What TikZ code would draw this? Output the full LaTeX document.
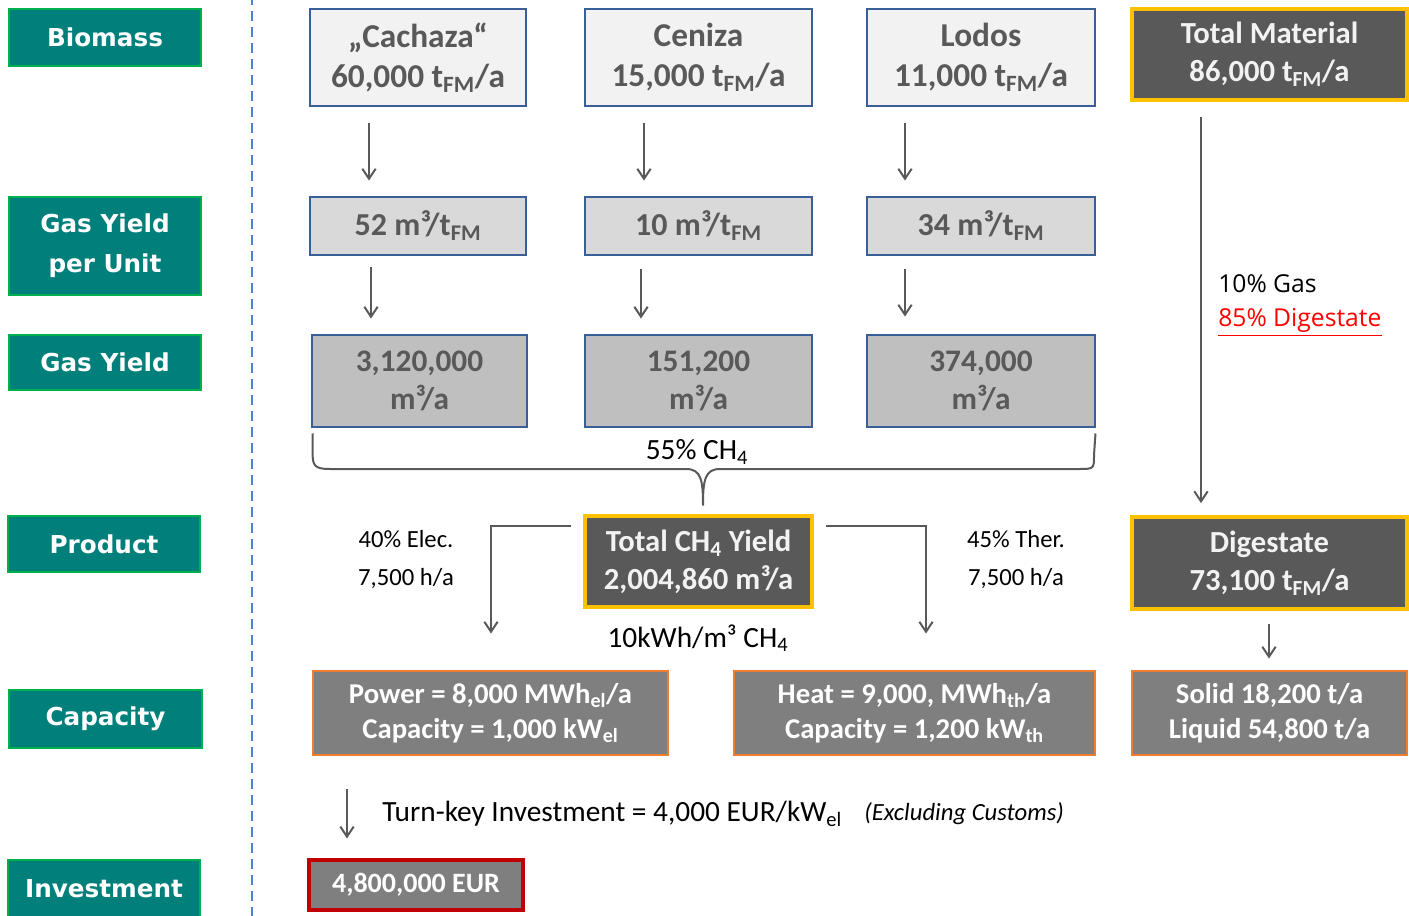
\documentclass[tikz,border=0pt]{standalone}
\usepackage{fontspec}
\setmainfont{Carlito}
\newfontfamily\lblfont{DejaVu Sans}
\newfontfamily\notefont{Open Sans}
\usetikzlibrary{arrows.meta,calc}

\definecolor{tealfill}{HTML}{007F7B}
\definecolor{tealedge}{HTML}{00B050}
\definecolor{boxblue}{HTML}{3A5F96}
\definecolor{txtgray}{HTML}{595959}
\definecolor{fillA}{HTML}{F2F2F2}
\definecolor{fillB}{HTML}{D9D9D9}
\definecolor{fillC}{HTML}{BFBFBF}
\definecolor{darkfill}{HTML}{595959}
\definecolor{goldedge}{HTML}{FFC000}
\definecolor{midfill}{HTML}{7F7F7F}
\definecolor{orangeedge}{HTML}{ED7D31}
\definecolor{redEdge}{HTML}{C00000}
\definecolor{dashblue}{HTML}{4F81C8}
\definecolor{notered}{HTML}{FF0000}

\newcommand\setfs[2]{\fontsize{#1}{#2}\selectfont}

\begin{document}
\begin{tikzpicture}[x=0.75pt,y=-0.75pt,
  every node/.style={inner sep=0pt, align=center},
  sz/.style 2 args={minimum width=#1*0.75pt, minimum height=#2*0.75pt},
  lbl/.style={draw=tealedge, line width=2.2pt, fill=tealfill, text=white,
    font=\lblfont\bfseries\setfs{18.5pt}{30pt}},
  srcbox/.style={draw=boxblue, line width=2.2pt, fill=fillA, text=txtgray,
    font=\bfseries\setfs{25pt}{30pt}},
  unitbox/.style={srcbox, fill=fillB, font=\bfseries\setfs{24pt}{29pt}},
  yieldbox/.style={srcbox, fill=fillC, font=\bfseries\setfs{23.5pt}{28pt}},
  darkbox/.style={draw=goldedge, line width=2.8pt, fill=darkfill, text=fillA,
    font=\bfseries\setfs{23pt}{28.5pt}},
  capbox/.style={draw=orangeedge, line width=2.2pt, fill=midfill, text=white,
    font=\bfseries\setfs{21.5pt}{26pt}},
  invbox/.style={draw=redEdge, line width=2.4pt, fill=midfill, text=white,
    font=\bfseries\setfs{21pt}{25pt}},
  note/.style={text=black, font=\setfs{18.5pt}{28.5pt}},
  arr/.style={draw=txtgray, line width=1.5pt,
    -{Straight Barb[length=7.5pt,width=10pt,line width=1.5pt]}},
  divider/.style={draw=dashblue, line width=2pt, dash pattern=on 7.5pt off 4.5pt}
]
\useasboundingbox (0,0) rectangle (1409,916);

% row headings
\node[lbl, sz={192}{57}] (lbio) at (105,37.5) {Biomass};
\node[lbl, sz={192}{98}] (lgpu) at (105,246) {Gas Yield\\per Unit};
\node[lbl, sz={192}{55}] (lgy) at (105,362.5) {Gas Yield};
\node[lbl, sz={192}{56}] (lprod) at (104,544) {Product};
\node[lbl, sz={193}{58}] (lcap) at (105.5,719) {Capacity};
\node[lbl, sz={192}{58}] (linv) at (104,889) {Investment};

% separator
\draw[divider] (252,-5) -- (252,921);

% feedstock
\node[srcbox, sz={216}{97}] (cach) at (418,57.5) {„Cachaza“\\60,000 t\textsubscript{FM}/a};
\node[srcbox, sz={227}{97}] (cen) at (698.5,57.5) {Ceniza\\15,000 t\textsubscript{FM}/a};
\node[srcbox, sz={228}{97}] (lod) at (981,57.5) {Lodos\\11,000 t\textsubscript{FM}/a};
\node[darkbox, sz={275}{91}] (totm) at (1269.5,54.5) {Total Material\\86,000 t\textsubscript{FM}/a};

% specific yield
\node[unitbox, sz={216}{58}] (u1) at (418,226) {52 m³/t\textsubscript{FM}};
\node[unitbox, sz={227}{58}] (u2) at (698.5,226) {10 m³/t\textsubscript{FM}};
\node[unitbox, sz={228}{58}] (u3) at (981,226) {34 m³/t\textsubscript{FM}};

% gas yield
\node[yieldbox, sz={215}{92}] (g1) at (419.5,381) {3,120,000\\m³/a};
\node[yieldbox, sz={227}{92}] (g2) at (698.5,381) {151,200\\m³/a};
\node[yieldbox, sz={228}{92}] (g3) at (981,381) {374,000\\m³/a};

% arrows between rows
\draw[arr] ($(cach.south)+(-49,16)$) -- ($(u1.north)+(-49,-15)$);
\draw[arr] ($(cen.south)+(-54.5,16)$) -- ($(u2.north)+(-54.5,-15)$);
\draw[arr] ($(lod.south)+(-76,16)$) -- ($(u3.north)+(-76,-15)$);
\draw[arr] ($(u1.south)+(-47,11)$) -- ($(g1.north)+(-48.5,-15)$);
\draw[arr] ($(u2.south)+(-57.5,13)$) -- ($(g2.north)+(-57.5,-15)$);
\draw[arr] ($(u3.south)+(-76,13)$) -- ($(g3.north)+(-76,-17)$);

% brace collecting the gas yields
\coordinate (bl) at ($(g1.south west)+(2,5)$);
\coordinate (br) at ($(g3.south east)+(-1,5)$);
\coordinate (btip) at (703,505);
\draw[draw=txtgray, line width=1.5pt, line join=round]
  (bl) -- ++(0,18) .. controls +(0,14) and (314,469) .. (330,469)
  -- (686,469) .. controls (701,469) and (703,480) .. (btip)
  .. controls (703,480) and (705,469) .. (720,469)
  -- (1078,469) .. controls (1094,469) and (1094,469) .. (1094,455) -- (br);
\node[font=\setfs{22pt}{26pt}] (ch4) at (697,452) {55\% CH\textsubscript{4}};

% product
\node[darkbox, sz={227}{91}] (tot) at (698.5,561.5) {Total CH\textsubscript{4} Yield\\2,004,860 m³/a};
\node[darkbox, sz={275}{92}] (dig) at (1269.5,563) {Digestate\\73,100 t\textsubscript{FM}/a};

\node[note] (elec) at (406,560) {40\% Elec.\\7,500 h/a};
\node[note] (ther) at (1016,560) {45\% Ther.\\7,500 h/a};
\node[font=\setfs{22pt}{26pt}] (kwh) at (698,638) {10kWh/m³ CH\textsubscript{4}};

% capacity
\node[capbox, sz={355}{84}] (pow) at (490.5,713) {Power = 8,000 MWh\textsubscript{el}/a\\Capacity = 1,000 kW\textsubscript{el}};
\node[capbox, sz={361}{84}] (heat) at (914.5,713) {Heat = 9,000, MWh\textsubscript{th}/a\\Capacity = 1,200 kW\textsubscript{th}};
\node[capbox, sz={275}{84}] (sol) at (1269.5,713) {Solid 18,200 t/a\\Liquid 54,800 t/a};

\draw[arr] ($(tot.north west)+(-12,12)$) -| ($(pow.north)+(0.5,-36)$);
\draw[arr] ($(tot.north east)+(12,12)$) -| ($(heat.north)+(11.5,-36)$);

% digestate branch
\draw[arr] ($(totm.south)+(-68.5,15)$) -- ($(dig.north)+(-68.5,-12)$);
\node[anchor=west, align=left, font=\notefont\setfs{18.5pt}{26pt}] (split) at (1218,305)
  {10\% Gas\\\textcolor{notered}{\underline{85\% Digestate}}};
\draw[arr] ($(dig.south)+(-0.5,13)$) -- ($(sol.north)+(-0.5,-11)$);

% investment
\node[invbox, sz={214}{50}] (inv) at (416,885) {4,800,000 EUR};
\draw[arr] ($(pow.south)+(-143.5,33)$) -- ($(inv.north)+(-69,-20)$);
\node[anchor=west, font=\setfs{22pt}{26pt}] (tk) at (382,814)
  {Turn-key Investment = 4,000 EUR/kW\textsubscript{el}};
\node[anchor=west, font=\itshape\setfs{18.5pt}{22pt}] (excl) at (864,814)
  {(Excluding Customs)};
\end{tikzpicture}
\end{document}
